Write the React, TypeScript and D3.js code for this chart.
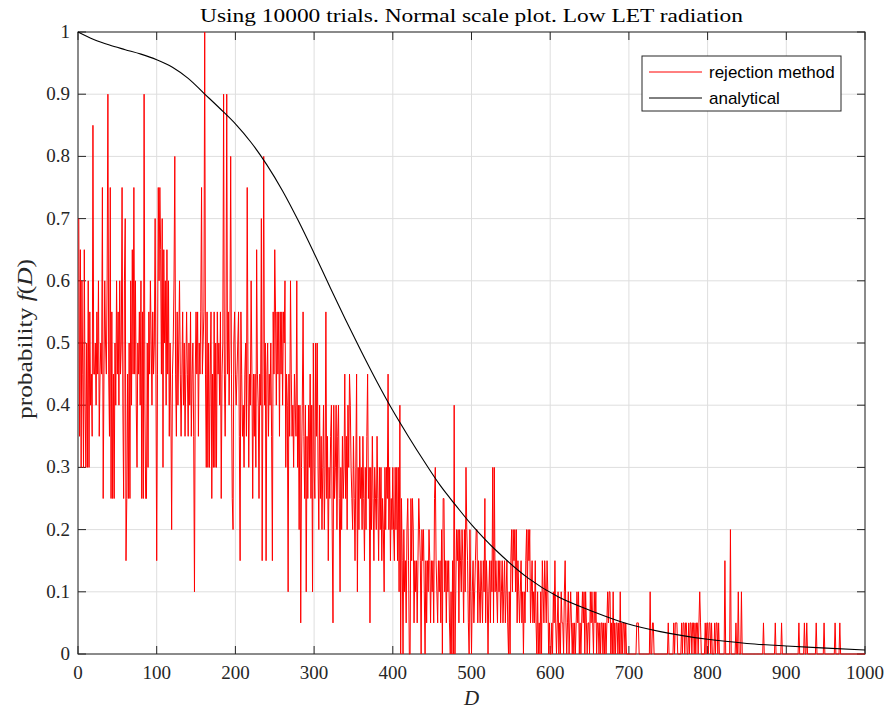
import React from "react";
import * as d3 from "d3";

// ---- data ----
const titleText = "Using 10000 trials. Normal scale plot. Low LET radiation";
const xTicks = [0, 100, 200, 300, 400, 500, 600, 700, 800, 900, 1000];
const yTicks = [0, 0.1, 0.2, 0.3, 0.4, 0.5, 0.6, 0.7, 0.8, 0.9, 1];
const legendLabels = ["rejection method", "analytical"];

// rejection-method histogram: counts per unit bin (D = 1..1000), base-36 digit, value = count / 20
const countRows = [
  "e7d6c96d86" + "a6c6b897h9" + "9a8b9c79a9" + "f59ca9ci97" + "f5b595a8c9" + "b8c9af85ce" + "3595a5c8d9" + "f9c86a9b8c" + "5b5i855a6b" + "9ca8b9ae93",
  "9fcfd9e6da" + "c8d9c7a849" + "acg97b8ac9" + "79b8a79b97" + "a8b79a729b" + "9b7a9bf9ab" + "k96b6a69b5" + "96b6a6b9a8" + "b59ai97ai9" + "b8ag954ab9",
  "89ab73b978" + "69a7f9698c" + "959796d985" + "98e39g8a39" + "a798a73b9d" + "b8b9b7b9b8" + "bac698297c" + "9786987c68" + "48168b7582" + "75869582a6",
  "5a7a648574" + "6846b57365" + "7841856847" + "8526475695" + "7486986547" + "5369264756" + "4753647956" + "1647536547" + "5364635426" + "4659463546",
  "4364636280" + "5304231453" + "0053541323" + "1354304342" + "0313243132" + "3156321323" + "1405523132" + "3102030802" + "4341432431" + "4264310420",
  "2312344132" + "1321325132" + "0231326162" + "3213231231" + "2312310203" + "4243424132" + "1231202134" + "2434123121" + "3102010203" + "2132132010",
  "0102131012" + "0102110231" + "0120121010" + "1012120101" + "2120210110" + "2121021201" + "1010110101" + "0121220102" + "0101101020" + "1011010000",
  "0000000001" + "1100000000" + "0000002001" + "1000000000" + "0000000001" + "0000001011" + "1000001011" + "0110010110" + "1101011012" + "1000001011",
  "0110100010" + "1101000000" + "0300000040" + "0000010020" + "0020000000" + "0000000000" + "0000000000" + "1000000000" + "0000010000" + "0001000000",
  "0000000000" + "0000010000" + "0010010000" + "0000000100" + "0000000100" + "0000000000" + "0100000100" + "0000000000" + "0000000000" + "0000000000",
];
const countScale = 20;

// analytical curve
const analyticD = [0, 20, 40, 60, 80, 100, 120, 140, 160, 180, 200, 220, 240, 260, 280, 300, 320, 340, 360, 380, 400, 420, 440, 460, 480, 500, 530, 572, 610, 655, 697, 740, 800, 850, 900, 1000];
const analyticF = [1.0, 0.988, 0.979, 0.9716, 0.9644, 0.9554, 0.9434, 0.9254, 0.9014, 0.8774, 0.8524, 0.8224, 0.7864, 0.7444, 0.6964, 0.6444, 0.5904, 0.5374, 0.4864, 0.4374, 0.3914, 0.3494, 0.3094, 0.2714, 0.239, 0.208, 0.168, 0.122, 0.092, 0.068, 0.049, 0.036, 0.0236, 0.017, 0.0129, 0.0064];

const W = 888, H = 715;
const L = 78, R = 865, T = 32, B = 654;

export default function App() {
  const x = d3.scaleLinear().domain([0, 1000]).range([L, R]);
  const y = d3.scaleLinear().domain([0, 1]).range([B, T]);

  const counts: number[] = countRows.join("").split("").map((c) => parseInt(c, 36));
  const rej = counts.map((c, i) => ({ d: i + 1, v: c / countScale }));
  const ana = analyticD.map((d, i) => ({ d, v: analyticF[i] }));

  const rejLine = d3.line<{ d: number; v: number }>().x((p) => x(p.d)).y((p) => y(p.v));
  const anaLine = d3
    .line<{ d: number; v: number }>()
    .x((p) => x(p.d))
    .y((p) => y(p.v))
    .curve(d3.curveCatmullRom.alpha(0.5));

  const axisColor = "#262626";
  const serif = "'Liberation Serif', 'Times New Roman', serif";
  const fmt = (v: number) => (v === 0 ? "0" : v === 1 ? "1" : d3.format(".1f")(v));

  return (
    <svg width={W} height={H} style={{ position: "absolute", left: 0, top: 0, background: "#fff" }}>
      <rect x={0} y={0} width={W} height={H} fill="#fff" />
      {/* grid */}
      <g stroke="#dedede" strokeWidth={1}>
        {xTicks.map((t) => (
          <line key={"gx" + t} x1={x(t)} x2={x(t)} y1={T} y2={B} />
        ))}
        {yTicks.map((t) => (
          <line key={"gy" + t} x1={L} x2={R} y1={y(t)} y2={y(t)} />
        ))}
      </g>
      {/* box & ticks */}
      <rect x={L} y={T} width={R - L} height={B - T} fill="none" stroke={axisColor} strokeWidth={1} />
      <g stroke={axisColor} strokeWidth={1}>
        {xTicks.map((t) => (
          <g key={"tx" + t}>
            <line x1={x(t)} x2={x(t)} y1={B} y2={B - 8} />
            <line x1={x(t)} x2={x(t)} y1={T} y2={T + 8} />
          </g>
        ))}
        {yTicks.map((t) => (
          <g key={"ty" + t}>
            <line x1={L} x2={L + 8} y1={y(t)} y2={y(t)} />
            <line x1={R} x2={R - 8} y1={y(t)} y2={y(t)} />
          </g>
        ))}
      </g>
      {/* data */}
      <path d={rejLine(rej) || ""} fill="none" stroke="#ff0000" strokeWidth={1} />
      <path d={anaLine(ana) || ""} fill="none" stroke="#000" strokeWidth={1.1} />
      {/* tick labels */}
      <g fontFamily={serif} fontSize={19} fill={axisColor}>
        {xTicks.map((t) => (
          <text key={"lx" + t} x={x(t)} y={B + 25} textAnchor="middle">
            {t}
          </text>
        ))}
        {yTicks.map((t) => (
          <text key={"ly" + t} x={L - 8} y={y(t) + 6} textAnchor="end">
            {fmt(t)}
          </text>
        ))}
      </g>
      {/* title */}
      <text
        x={(L + R) / 2}
        y={22}
        textAnchor="middle"
        fontFamily={serif}
        fontSize={19.5}
        fill="#000"
        textLength={543}
        lengthAdjust="spacingAndGlyphs"
      >
        {titleText}
      </text>
      {/* axis labels */}
      <text x={(L + R) / 2} y={705} textAnchor="middle" fontFamily={serif} fontSize={21} fontStyle="italic" fill={axisColor}>
        D
      </text>
      <text
        transform={`translate(32, ${(T + B) / 2 - 4}) rotate(-90)`}
        textAnchor="middle"
        fontFamily={serif}
        fontSize={20}
        fill={axisColor}
        textLength={160}
        lengthAdjust="spacingAndGlyphs"
      >
        probability <tspan fontStyle="italic">f</tspan>(<tspan fontStyle="italic">D</tspan>)
      </text>
      {/* legend */}
      <g>
        <rect x={642} y={56} width={199} height={55} fill="#fff" stroke={axisColor} strokeWidth={1} />
        <line x1={649} x2={702} y1={72} y2={72} stroke="#ff0000" strokeWidth={1} />
        <line x1={649} x2={702} y1={98} y2={98} stroke="#000" strokeWidth={1} />
        <g fontFamily="'Liberation Sans', Arial, sans-serif" fontSize={17} fill="#000">
          <text x={709} y={78}>{legendLabels[0]}</text>
          <text x={709} y={104}>{legendLabels[1]}</text>
        </g>
      </g>
    </svg>
  );
}
